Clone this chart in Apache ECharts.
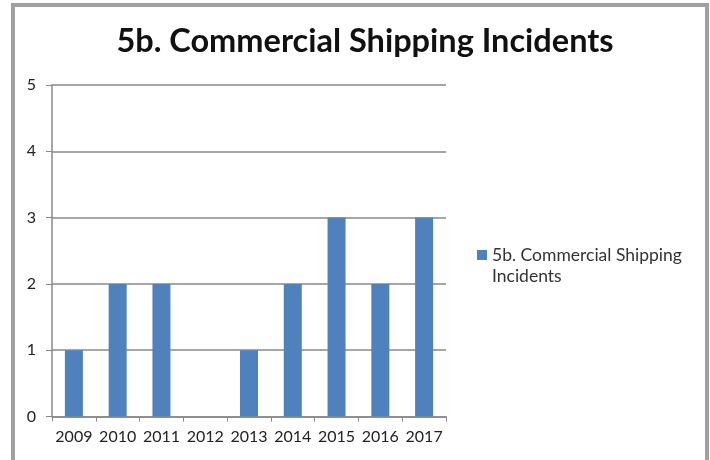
<!DOCTYPE html>
<html>
<head>
<meta charset="utf-8">
<script src="https://cdn.jsdelivr.net/npm/echarts@6/dist/echarts.min.js"></script>
<style>
  html, body { margin: 0; padding: 0; background: #fff; }
  #frame { position: absolute; left: 11px; top: 3px; width: 690px; height: 470px; border: 4px solid #a0a0a0; border-bottom: none; }
  #main { position: absolute; left: 0; top: 0; width: 710px; height: 460px; }
</style>
</head>
<body>
<div id="frame"></div>
<div id="main"></div>
<script>
const years = ['2009', '2010', '2011', '2012', '2013', '2014', '2015', '2016', '2017'];
const incidents = [1, 2, 2, 0, 1, 2, 3, 2, 3];
const seriesName = '5b. Commercial Shipping Incidents';

const font = 'Lato, "Open Sans", sans-serif';
const option = {
    animation: false,
    title: {
        text: '5b. Commercial Shipping Incidents',
        left: 360, top: 20, textAlign: 'center',
        textStyle: {fontFamily: font, fontWeight: 'bold', fontSize: 32.5, color: '#111'}
    },
    legend: {
        left: 472, top: 238,
        icon: 'rect', itemWidth: 10, itemHeight: 10, itemGap: 6,
        data: [seriesName],
        // the wrapped second line is drawn as graphic text so the marker sits by the first line
        formatter: () => '5b. Commercial Shipping',
        textStyle: {fontFamily: font, fontSize: 17.5, color: '#333', lineHeight: 24}
    },
    graphic: [{
        type: 'text', left: 492, top: 267,
        style: {text: 'Incidents', font: '17.5px ' + font, fill: '#333'}
    }],
    grid: {left: 52, right: 264, top: 85, bottom: 43.5},
    xAxis: {
        type: 'category',
        data: years,
        axisLine: {lineStyle: {color: '#888', width: 1.5}},
        axisTick: {show: true, length: 5, lineStyle: {color: '#888'}},
        axisLabel: {interval: 0, margin: 12, fontFamily: font, fontSize: 16, color: '#222'}
    },
    yAxis: {
        type: 'value',
        min: 0, max: 5, interval: 1,
        axisLine: {show: true, lineStyle: {color: '#888', width: 1.5}},
        axisTick: {show: true, length: 6, lineStyle: {color: '#888'}},
        axisLabel: {margin: 16, fontFamily: font, fontSize: 16, color: '#222'},
        splitLine: {show: true, lineStyle: {color: '#888', width: 1.5}}
    },
    series: [{
        name: seriesName,
        type: 'bar',
        barWidth: 18,
        itemStyle: {color: '#4f81bd'},
        data: incidents
    }]
};
const myChart = echarts.init(document.getElementById('main'));
myChart.setOption(option);
</script>
</body>
</html>
